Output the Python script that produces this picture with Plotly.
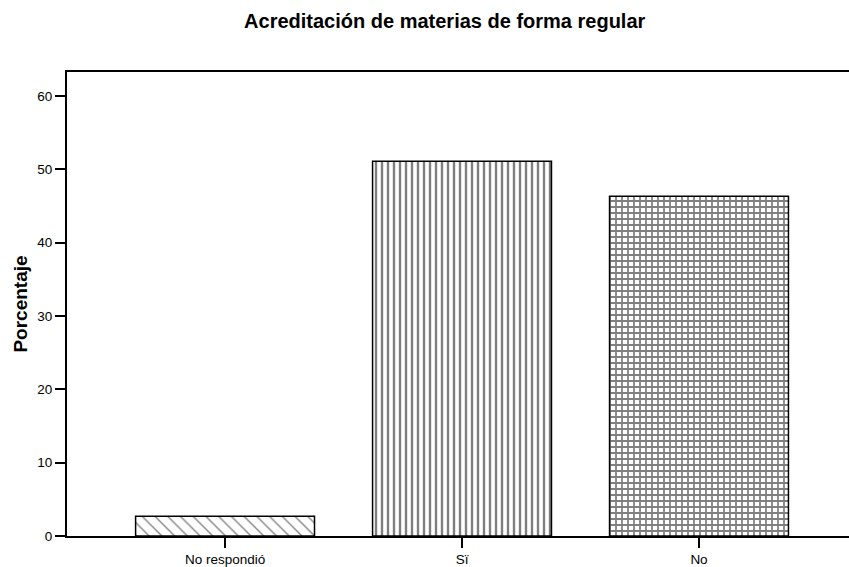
import plotly.graph_objects as go

categories = ["No respondió", "Sï", "No"]
values = [2.7, 51.1, 46.3]
patterns = ["\\", "|", "+"]
pattern_sizes = [9, 6, 6]
pattern_solidity = [0.15, 0.4, 0.5]
y_ticks = [0, 10, 20, 30, 40, 50, 60]

fig = go.Figure()
fig.add_trace(go.Bar(
    x=categories,
    y=values,
    width=0.755,
    marker=dict(
        color="white",
        line=dict(color="black", width=1.5),
        pattern=dict(shape=patterns, size=pattern_sizes, solidity=pattern_solidity,
                     fgcolor="black", bgcolor="white", fillmode="overlay"),
    ),
    showlegend=False,
))

font_family = "Liberation Sans, Arial, sans-serif"
fig.update_layout(
    width=849, height=567,
    margin=dict(l=67, r=0, t=72, b=28),
    paper_bgcolor="white", plot_bgcolor="white",
    font=dict(family=font_family, color="black", size=13),
    title=dict(text="<b>Acreditación de materias de forma regular</b>",
               x=0.483, xref="paper", xanchor="center",
               y=1 - 21 / 567, yref="container", yanchor="middle",
               font=dict(size=20, family=font_family, color="black")),
    bargap=0.245,
)
fig.update_xaxes(
    range=[-0.667, 2.633],
    showline=True, linecolor="black", linewidth=2, mirror=True,
    ticks="outside", ticklen=10, tickcolor="black", tickwidth=1.5,
    showgrid=False, zeroline=False,
    tickfont=dict(size=13.5),
)
fig.update_yaxes(
    range=[0, 63.25],
    tickvals=y_ticks,
    showline=True, linecolor="black", linewidth=2, mirror=False,
    ticks="outside", ticklen=10, tickcolor="black", tickwidth=1.5,
    showgrid=False, zeroline=False,
    tickfont=dict(size=13.5),
    title=dict(text="<b>Porcentaje</b>", font=dict(size=19), standoff=5),
)

fig.write_html("out.html", config={"displayModeBar": False},
               post_script="document.body.style.margin='0px';")
